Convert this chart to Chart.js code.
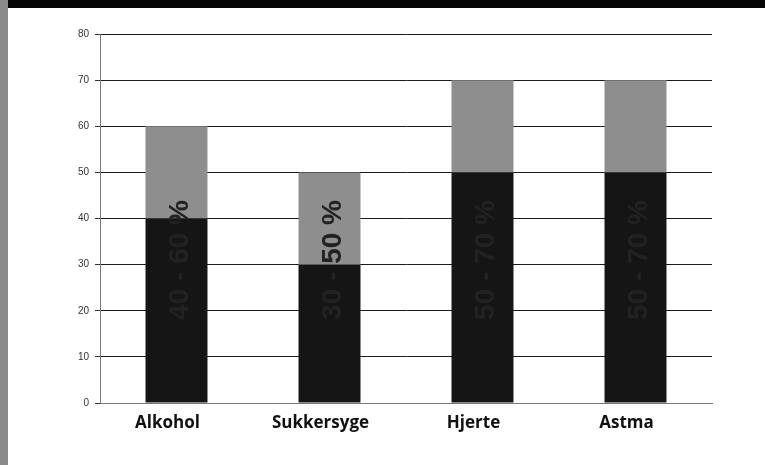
<!DOCTYPE html>
<html lang="da">
<head>
    <meta charset="UTF-8">
    <title>Stacked bars</title>
    <script src="https://cdn.jsdelivr.net/npm/chart.js"></script>
    <style>
        html, body { margin: 0; padding: 0; background: #fff; }
        .frame { position: relative; width: 765px; height: 465px; overflow: hidden; }
        .top-edge { position: absolute; left: 0; top: 0; width: 765px; height: 8px; background: #050505; }
        .left-edge { position: absolute; left: 0; top: 0; width: 8px; height: 465px; background: #8a8a8a; }
        canvas { position: absolute; left: 0; top: 0; }
    </style>
</head>
<body>
    <div class="frame">
        <canvas id="chart" width="765" height="465"></canvas>
        <div class="top-edge"></div>
        <div class="left-edge"></div>
    </div>

    <script>
        const categories = ['Alkohol', 'Sukkersyge', 'Hjerte', 'Astma'];
        const lowerValues = [40, 30, 50, 50];
        const upperValues = [20, 20, 20, 20];
        const barLabels = ['40 - 60 %', '30 - 50 %', '50 - 70 %', '50 - 70 %'];
        const yTicks = [0, 10, 20, 30, 40, 50, 60, 70, 80];

        // vertical text written over each bar (top end sits at this axis value)
        const barTextPlugin = {
            id: 'barText',
            afterDatasetsDraw(chart) {
                const ctx = chart.ctx;
                const meta = chart.getDatasetMeta(0);
                const yScale = chart.scales.y;
                ctx.save();
                ctx.font = 'bold 28px "Liberation Sans", sans-serif';
                ctx.fillStyle = '#222';
                ctx.textAlign = 'right';
                ctx.textBaseline = 'middle';
                meta.data.forEach((bar, i) => {
                    ctx.save();
                    ctx.translate(bar.x + 4, yScale.getPixelForValue(44));
                    ctx.rotate(-Math.PI / 2);
                    ctx.fillText(barLabels[i], 0, 0);
                    ctx.restore();
                });
                ctx.restore();
            }
        };

        new Chart(document.getElementById('chart'), {
            type: 'bar',
            data: {
                labels: categories,
                datasets: [
                    { data: lowerValues, backgroundColor: '#151515', categoryPercentage: 1, barPercentage: 0.405 },
                    { data: upperValues, backgroundColor: '#8e8e8e', categoryPercentage: 1, barPercentage: 0.405 }
                ]
            },
            options: {
                responsive: false,
                animation: false,
                layout: { padding: { left: 0, top: 34, right: 53, bottom: 0 } },
                plugins: { legend: { display: false }, tooltip: { enabled: false } },
                scales: {
                    x: {
                        stacked: true,
                        grid: { display: false },
                        border: { color: '#777', width: 1 },
                        ticks: {
                            color: '#111',
                            padding: 2,
                            labelOffset: -9,
                            font: { family: '"Open Sans", sans-serif', size: 17, weight: 'bold' }
                        },
                        afterFit(scale) { scale.height = 62; }
                    },
                    y: {
                        stacked: true,
                        min: 0,
                        max: 80,
                        afterBuildTicks(scale) { scale.ticks = yTicks.map(v => ({ value: v })); },
                        grid: { color: '#1a1a1a', lineWidth: 1, tickLength: 5, tickColor: '#333' },
                        border: { color: '#777', width: 1 },
                        ticks: {
                            color: '#333',
                            padding: 6,
                            font: { family: '"Liberation Sans", sans-serif', size: 10 }
                        },
                        afterFit(scale) { scale.width = 100; }
                    }
                }
            },
            plugins: [barTextPlugin]
        });
    </script>
</body>
</html>
